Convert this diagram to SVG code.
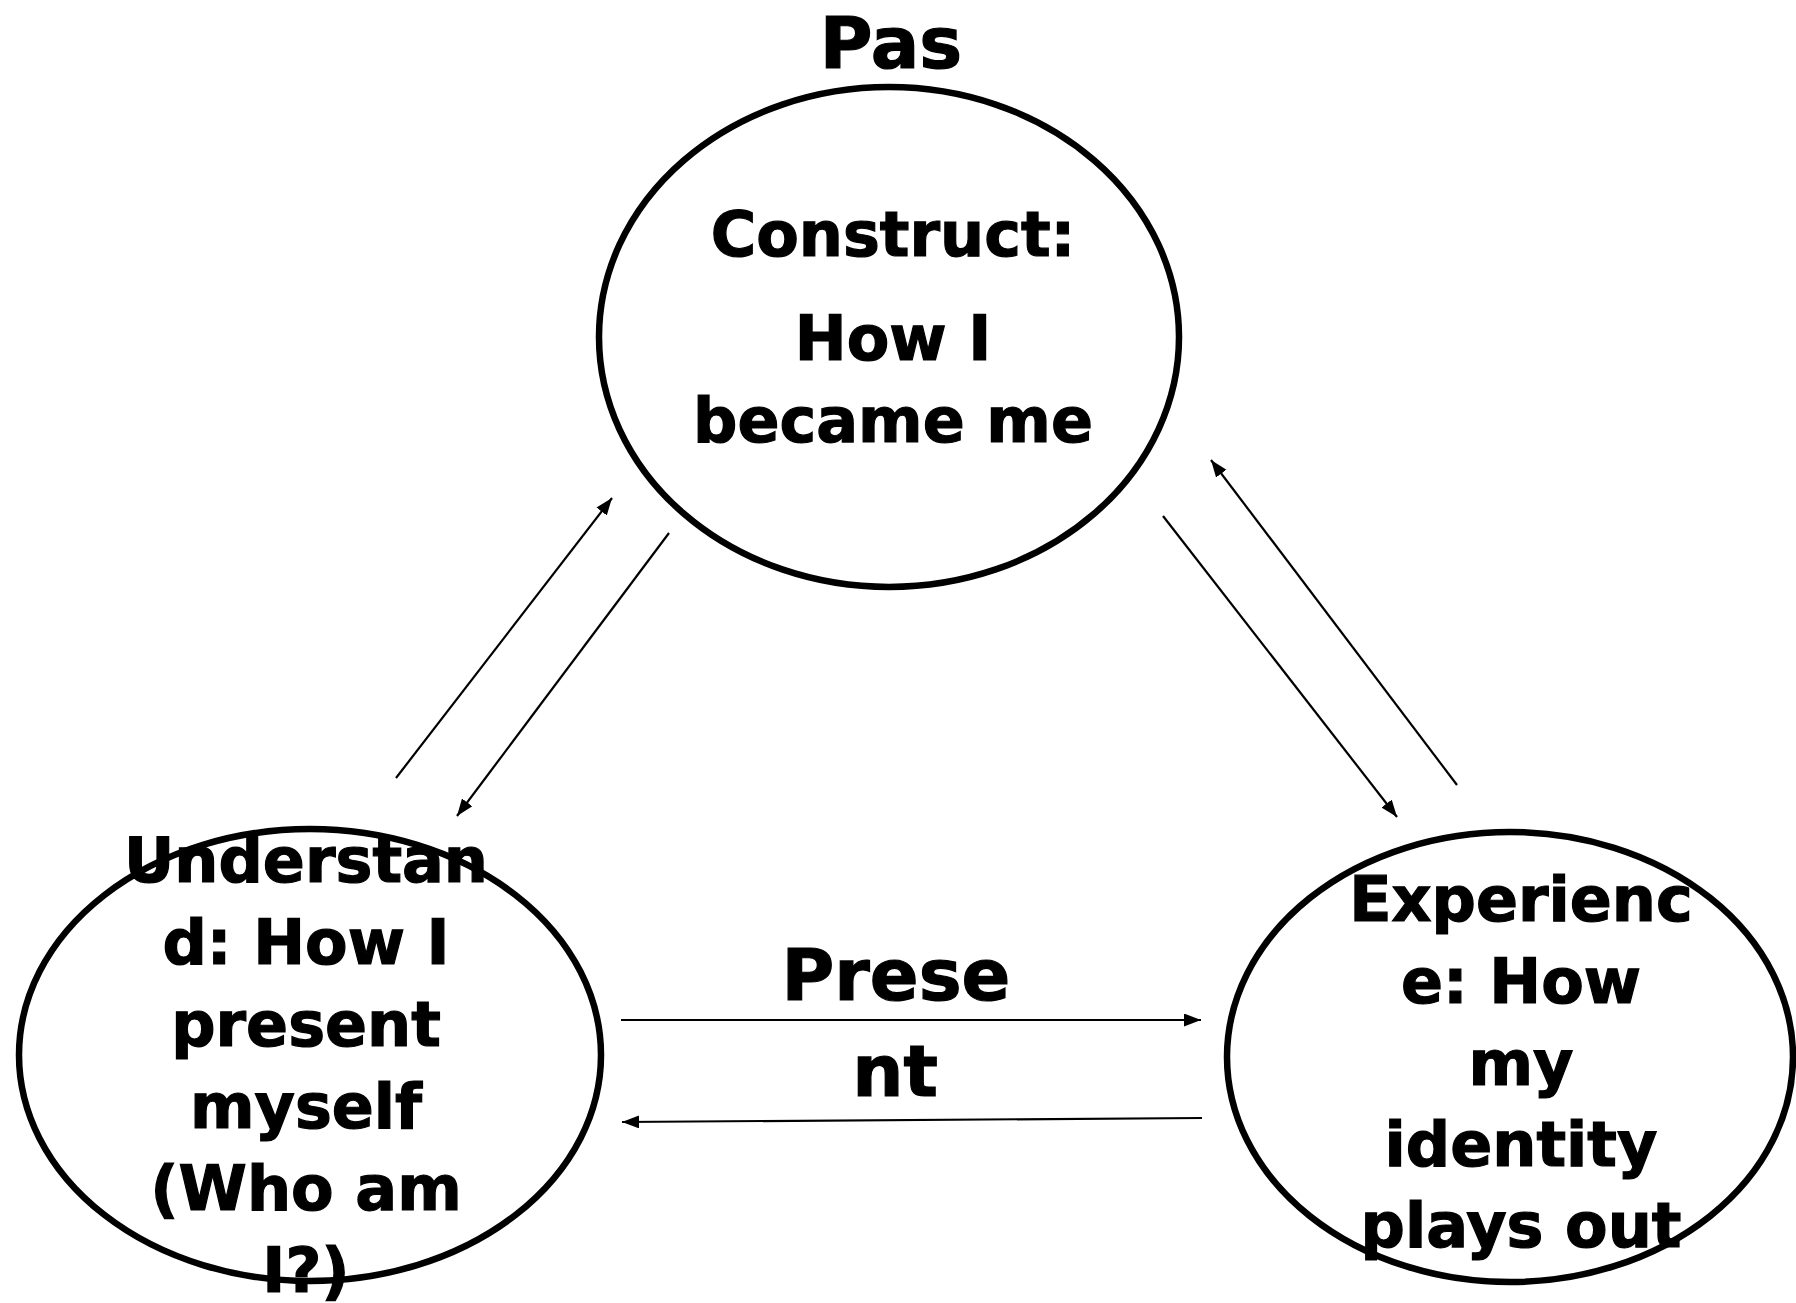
<svg xmlns="http://www.w3.org/2000/svg" width="1796" height="1303" viewBox="0 0 1796 1303">
<style>
.shape{fill:#fff;stroke:#000;stroke-width:6.5}
.t{font-family:"DejaVu Sans",Verdana,sans-serif;font-weight:bold;fill:#000;stroke:#000;stroke-width:1.2;text-anchor:middle}
.n{font-size:62px}
.l{font-size:72px}
.c{stroke:#000;stroke-width:2.2;fill:none;marker-end:url(#ah)}
</style>
<defs>
<marker id="ah" markerUnits="userSpaceOnUse" markerWidth="18" markerHeight="14" refX="17" refY="6.5" orient="auto">
<path d="M0,0 L17,6.5 L0,13 z" fill="#000"/>
</marker>
</defs>
<rect width="1796" height="1303" fill="#fff"/>
<g id="connectors">
<line class="c" x1="396" y1="778" x2="612" y2="498"/>
<line class="c" x1="669" y1="533" x2="457" y2="816"/>
<line class="c" x1="1163" y1="516" x2="1397" y2="817"/>
<line class="c" x1="1457" y1="785" x2="1211" y2="460"/>
<line class="c" x1="621" y1="1020" x2="1201" y2="1020"/>
<line class="c" x1="1202" y1="1118" x2="622" y2="1122"/>
</g>
<g id="label-past">
<text class="t l" x="891" y="68">Pas</text>
</g>
<g id="label-present">
<text class="t l" x="896" y="1000">Prese</text>
<text class="t l" x="895" y="1096">nt</text>
</g>
<g id="node-construct">
<ellipse class="shape" cx="889" cy="337" rx="290" ry="250"/>
<text class="t n" x="893" y="256">Construct:</text>
<text class="t n" x="893" y="360">How I</text>
<text class="t n" x="893" y="442">became me</text>
</g>
<g id="node-understand">
<ellipse class="shape" cx="310" cy="1055" rx="291" ry="226"/>
<text class="t n" x="306" y="882">Understan</text>
<text class="t n" x="306" y="964">d: How I</text>
<text class="t n" x="306" y="1046">present</text>
<text class="t n" x="306" y="1128">myself</text>
<text class="t n" x="306" y="1210">(Who am</text>
<text class="t n" x="306" y="1292">I?)</text>
</g>
<g id="node-experience">
<ellipse class="shape" cx="1510" cy="1057" rx="283" ry="225"/>
<text class="t n" x="1521" y="921">Experienc</text>
<text class="t n" x="1521" y="1003">e: How</text>
<text class="t n" x="1521" y="1085">my</text>
<text class="t n" x="1521" y="1166">identity</text>
<text class="t n" x="1521" y="1247">plays out</text>
</g>
</svg>
